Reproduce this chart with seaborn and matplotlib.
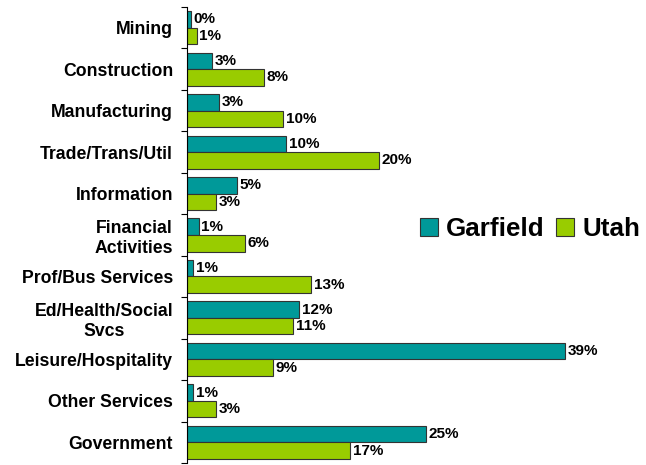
import matplotlib
matplotlib.use('Agg')
import matplotlib.pyplot as plt
import numpy as np
import pandas as pd
import seaborn as sns
from matplotlib.patches import Patch

# industries, top to bottom
categories = ['Mining', 'Construction', 'Manufacturing', 'Trade/Trans/Util',
              'Information', 'Financial\nActivities', 'Prof/Bus Services',
              'Ed/Health/Social\nSvcs', 'Leisure/Hospitality', 'Other Services',
              'Government']
garfield = [0.4, 2.6, 3.3, 10.3, 5.2, 1.2, 0.6, 11.6, 39.2, 0.6, 24.8]
utah = [1.0, 8.0, 10.0, 19.9, 3.0, 6.0, 12.9, 11.0, 8.9, 3.0, 16.9]
series = ['Garfield', 'Utah']

df = pd.DataFrame({
    'industry': categories * 2,
    'share': garfield + utah,
    'area': ['Garfield'] * len(categories) + ['Utah'] * len(categories),
})

sns.set_style('white')
plt.rcParams['font.family'] = ['Liberation Sans', 'DejaVu Sans']
plt.rcParams['font.weight'] = 'bold'
plt.rcParams['text.color'] = 'black'
plt.rcParams['ytick.color'] = 'black'

fig = plt.figure(figsize=(6.46, 4.65), dpi=100)
ax = fig.add_axes([187 / 646, 2 / 465, 1 - 187 / 646, 456 / 465])

p = ['#009999', '#99CC00']
sns.barplot(df, x='share', y='industry', hue='area', orient='h', palette=p,
            edgecolor='#333333', linewidth=0.8, width=0.8, ax=ax,
            saturation=1, legend=False)

for cont in ax.containers:
    vals = [b.get_width() for b in cont]
    ax.bar_label(cont, labels=['%d%%' % round(v) for v in vals], padding=2,
                 fontsize=11, fontweight='bold', color='black')

ax.set_xlim(0, 47.6)
ax.set_ylim(len(categories) - 0.5, -0.5)
ax.set_xlabel('')
ax.set_ylabel('')
ax.set_xticks([])
ax.set_yticks(range(len(categories)))
ax.set_yticklabels(categories, fontsize=12.7, fontweight='bold', color='black',
                   multialignment='center')
ax.set_yticks(np.arange(len(categories) + 1) - 0.5, minor=True)
ax.tick_params(axis='y', which='major', length=0, pad=10)
ax.tick_params(axis='y', which='minor', length=4, width=0.8, color='black', left=True)
for s in ['top', 'right', 'bottom']:
    ax.spines[s].set_visible(False)
ax.spines['left'].set_color('black')
ax.spines['left'].set_linewidth(0.8)

handles = [Patch(facecolor=c, edgecolor='#333333', linewidth=0.8) for c in p]
fig.legend(handles, series, loc='center left', bbox_to_anchor=(420 / 646, 1 - 229 / 465),
           ncol=2, frameon=False, prop={'size': 18.7, 'weight': 'bold'},
           handlelength=0.7, handleheight=0.7, handletextpad=0.3,
           columnspacing=0.45, borderpad=0, borderaxespad=0)

plt.savefig('out.png', dpi=100)
plt.close('all')
